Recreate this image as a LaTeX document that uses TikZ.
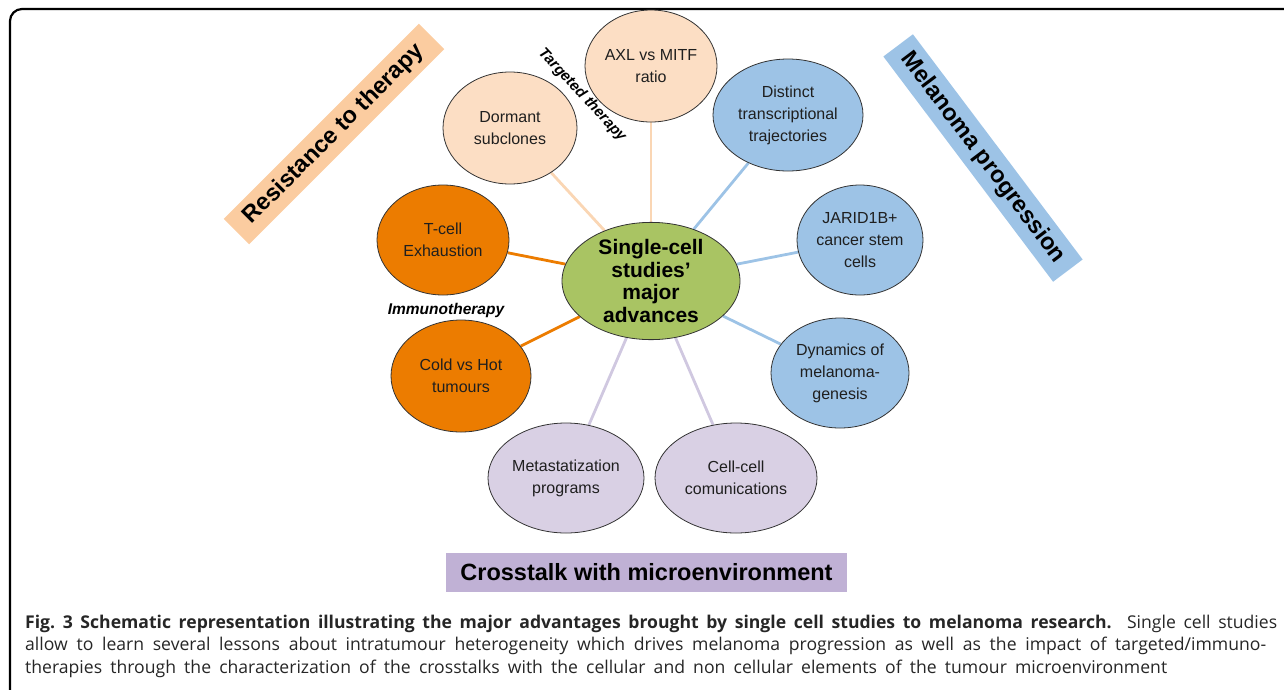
\documentclass[tikz,border=0pt]{standalone}
\usepackage{fontspec}
\setmainfont{Liberation Sans}
\newfontfamily\capfont{Open Sans}
\usetikzlibrary{shapes.geometric,backgrounds}
\definecolor{peachfill}{RGB}{252,222,196}
\definecolor{peachline}{RGB}{250,214,180}
\definecolor{bluefill}{RGB}{157,195,230}
\definecolor{orangefill}{RGB}{236,124,0}
\definecolor{purplefill}{RGB}{217,208,228}
\definecolor{purpleline}{RGB}{208,200,224}
\definecolor{greenfill}{RGB}{169,196,99}
\definecolor{resfill}{RGB}{251,204,160}
\definecolor{crossfill}{RGB}{192,177,213}
\tikzset{
  bub/.style={ellipse, draw=black!80, line width=0.8pt, inner sep=0pt, align=center,
    text=black!88, font=\fontsize{16}{22}\selectfont},
  conn/.style={line width=2.8pt},
  band/.style={inner sep=0pt, text=black, font=\bfseries\fontsize{23.5}{26}\selectfont},
  capline/.style={anchor=base west, inner sep=0pt, text=black!85, font=\capfont\fontsize{17.6}{22}\selectfont},
}
\begin{document}
\begin{tikzpicture}[x=1pt,y=-1pt]
\useasboundingbox (0,0) rectangle (1284,689);
\clip (0,0) rectangle (1284,689);
\draw[line width=2.2pt, rounded corners=12pt] (10,720) -- (10,9) -- (1320,9);

% central node
\node[bub, fill=greenfill, minimum width=178pt, minimum height=102pt,
      font=\bfseries\fontsize{21}{22.5}\selectfont, text=black] (c) at (651,281)
      {Single-cell\\studies’\\major\\advances};

% targeted therapy
\node[bub, fill=peachfill, minimum width=132pt, minimum height=112pt] (axl) at (651,66) {AXL vs MITF\\ratio};
\node[bub, fill=peachfill, minimum width=134pt, minimum height=112pt] (dorm) at (510,128) {Dormant\\subclones};
% melanoma progression
\node[bub, fill=bluefill, minimum width=150pt, minimum height=112pt] (dist) at (788,115) {Distinct\\transcriptional\\trajectories};
\node[bub, fill=bluefill, minimum width=126pt, minimum height=110pt] (jar) at (860,240) {JARID1B+\\cancer stem\\cells};
\node[bub, fill=bluefill, minimum width=138pt, minimum height=110pt] (dyn) at (840,373) {Dynamics of\\melanoma-\\genesis};
% immunotherapy
\node[bub, fill=orangefill, minimum width=132pt, minimum height=110pt] (tcell) at (443,240) {T-cell\\Exhaustion};
\node[bub, fill=orangefill, minimum width=140pt, minimum height=112pt] (cold) at (461,376) {Cold vs Hot\\tumours};
% microenvironment
\node[bub, fill=purplefill, minimum width=156pt, minimum height=110pt] (meta) at (566,478) {Metastatization\\programs};
\node[bub, fill=purplefill, minimum width=162pt, minimum height=110pt] (cc) at (736,478) {Cell-cell\\comunications};

\begin{scope}[on background layer]
\draw[conn, peachline] (c) -- (axl);
\draw[conn, peachline] (c) -- (dorm);
\draw[conn, bluefill] (c) -- (dist);
\draw[conn, bluefill] (c) -- (jar);
\draw[conn, bluefill] (c) -- (dyn);
\draw[conn, orangefill] (c) -- (tcell);
\draw[conn, orangefill] (c) -- (cold);
\draw[conn, purpleline] (c) -- (meta);
\draw[conn, purpleline] (c) -- (cc);
\end{scope}

% category labels
\node[band, rotate=45, fill=resfill, minimum width=276pt, minimum height=36pt] (res) at (334,134) {Resistance to therapy};
\node[band, rotate=-53, fill=bluefill, minimum width=282pt, minimum height=37pt] (mel) at (983,158) {Melanoma progression};
\node[band, fill=crossfill, minimum width=401pt, minimum height=39pt] (cross) at (646.5,572.5) {Crosstalk with microenvironment};
\node[rotate=-47, inner sep=0pt, font=\bfseries\itshape\fontsize{15}{17}\selectfont] (tt) at (582,95) {Targeted therapy};
\node[inner sep=0pt, font=\bfseries\itshape\fontsize{15.5}{18}\selectfont] (imm) at (446,310) {Immunotherapy};

% caption
\node[capline] (cap1) at (25,628) {\makebox[1252pt][s]{\textbf{Fig.~3 Schematic representation illustrating the major advantages brought by single cell studies to melanoma research.} Single cell studies}};
\node[capline] (cap2) at (25,650.5) {\makebox[1241pt][s]{allow to learn several lessons about intratumour heterogeneity which drives melanoma progression as well as the impact of targeted/immuno-}};
\node[capline] (cap3) at (25,673) {\makebox[1142pt][s]{therapies through the characterization of the crosstalks with the cellular and non cellular elements of the tumour microenvironment}};
\end{tikzpicture}
\end{document}
